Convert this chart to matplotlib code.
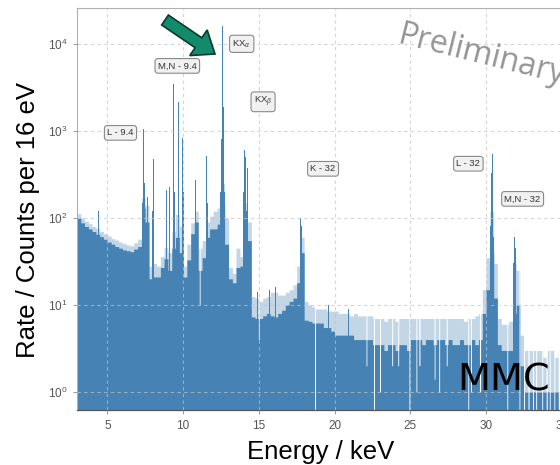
import numpy as np
import matplotlib
matplotlib.use("Agg")
import matplotlib.pyplot as plt
from matplotlib.patches import FancyArrow

plt.rcParams['font.family'] = ['Liberation Sans', 'DejaVu Sans']
plt.rcParams['mathtext.fontset'] = 'custom'
plt.rcParams['mathtext.rm'] = 'Liberation Sans'
plt.rcParams['mathtext.it'] = 'Liberation Sans:italic'

# ---- spectrum data (counts per 16 eV bin) ----
# continuum summarised in 0.25 keV blocks starting at 3.0 keV:
# typical (dense) level and upper edge of the bin-to-bin scatter
BIN_START_KEV = 3.0
BLOCK_KEV = 0.25
FINE_BIN_KEV = 0.016
continuum_typical = [
    100, 88, 80, 75, 70, 65, 61, 57, 53, 50, 47, 45, 43, 42, 41, 44,      # 3.00-6.75
    47, 130, 90, 20, 21, 21, 27, 34, 25, 45, 60, 40, 21, 33, 66, 90,      # 7.00-10.75
    25, 35, 60, 75, 75, 85, 150, 50, 20, 18, 27, 28, 80, 55, 7.3, 7,      # 11.00-14.75
    7, 7.5, 8, 7.5, 7.3, 8, 8.7, 10, 11, 12, 18, 40, 6.7, 6.5, 6.2, 6.2,  # 15.00-18.75
    6.2, 5.5, 5.5, 5, 4.5, 4.5, 4.5, 4.5, 4.5, 4, 4, 4, 4, 4, 3.5, 3.5,   # 19.00-22.75
    3.5, 3, 3.5, 3.5, 3, 3.5, 3.5, 3, 4, 4, 4, 3.5, 4, 4, 3.5, 4,         # 23.00-26.75
    4, 3.5, 4, 3.5, 3.5, 4, 3.5, 3.5, 4, 3.5, 4, 8, 15, 40, 12, 3.5,      # 27.00-30.75
    3, 3, 3, 8, 10, 2, 1, 1, 1, 1, 1, 1, 1, 1,                            # 31.00-34.25
    1, 1, 1, 1, 1, 1,                                                     # 34.50-35.75
]
continuum_scatter_top = [
    112, 100, 92, 86, 80, 76, 70, 66, 62, 58, 56, 53, 51, 49, 48, 52,
    57, 170, 140, 28, 30, 28, 36, 46, 40, 70, 110, 80, 28, 50, 88, 120,
    45, 55, 90, 105, 120, 130, 250, 100, 27, 23, 45, 36, 150, 90, 12.5, 12,
    11, 12, 12.5, 14, 14, 13, 13, 14, 15, 17, 28, 60, 11, 10, 9.5, 9,
    9, 9, 8.5, 8.5, 8.5, 8, 8, 8, 7.5, 8, 7.5, 7.5, 7.5, 7.5, 7, 7,
    7, 6.5, 7, 7, 6.5, 7, 7, 7, 7, 7, 7, 7, 7, 7, 7, 7,
    7, 7, 7, 7, 7, 7, 6.5, 7, 7, 7.5, 8, 15, 35, 120, 30, 7,
    6, 6, 6.5, 30, 25, 4.5, 3, 3, 3, 3, 3, 2.5, 3, 3,
    2.5, 3, 2.5, 2.5, 2.5, 2.5,
]

# bins with few or no counts inside the continuum (keV, counts)
dropout_energy_kev = [
    11.10, 15.00, 18.71, 22.10, 22.60, 23.00, 23.80, 24.20, 24.94, 25.40,
    25.60, 26.60, 26.90, 27.40, 28.83, 29.00, 29.60, 31.40, 32.20, 32.50,
    32.80, 33.10, 33.30, 33.70, 34.00, 34.20, 34.50, 34.80,
]
dropout_counts = [
    10, 4, 0.1, 2, 0.1, 1, 2, 2, 0.1, 1,
    2, 1.4, 1, 2, 0.1, 1, 1, 0.1, 0.1, 0.1,
    0.1, 0.1, 0.1, 0.1, 0.1, 0.1, 0.1, 0.1,
]

# narrow fluorescence / conversion lines and single high bins (keV, counts)
line_energy_kev = [
    4.40,
    7.32, 7.36, 7.40, 7.44, 7.48, 7.66, 8.00, 8.04, 8.48, 8.92, 9.10,
    9.33, 9.37, 9.41, 9.45, 9.66, 9.70, 9.74, 9.97, 10.01,
    10.80, 10.84, 11.38, 11.56, 11.60, 12.30,
    12.46, 12.50, 12.54, 12.58, 12.62, 12.66, 12.70, 12.74,
    14.01, 14.05, 14.09, 14.13, 14.20, 14.24,
    14.90, 15.70, 16.10, 17.75, 17.79, 17.83,
    19.60, 20.90, 23.00, 26.30,
    30.25, 30.29, 30.33, 30.37, 30.41, 30.45, 30.49,
    31.83, 31.87, 31.91, 31.95,
]
line_counts = [
    120,
    150, 300, 1050, 250, 140, 174, 120, 475, 102, 209, 227,
    400, 3500, 800, 200, 500, 2150, 300, 830, 200,
    275, 150, 275, 520, 150, 135,
    200, 300, 800, 3800, 16000, 1900, 400, 200,
    200, 600, 2750, 500, 120, 376,
    14, 15, 16, 100, 340, 80,
    10, 9, 10, 9,
    50, 80, 150, 330, 545, 200, 60,
    30, 60, 105, 45,
]

# line labels (text, energy keV, counts)
label_text = [r'KX$_{\alpha}$', r'KX$_{\beta}$', 'M,N - 9.4', 'L - 9.4',
              'K - 32', 'L - 32', 'M,N - 32']
label_energy = [13.87, 15.28, 9.62, 5.87, 19.24, 28.83, 32.41]
label_counts = [10070, 2170, 5615, 953, 368, 421, 166]

# ---- fine 16 eV histogram built from the block summary ----
n_fine = int(round((36.0 - BIN_START_KEV) / FINE_BIN_KEV))
fine_edges = BIN_START_KEV + FINE_BIN_KEV * np.arange(n_fine + 1)
centers = fine_edges[:-1] + FINE_BIN_KEV / 2
block = np.minimum(((centers - BIN_START_KEV) / BLOCK_KEV).astype(int),
                   len(continuum_typical) - 1)
typical = np.array(continuum_typical, float)[block]
scatter = np.array(continuum_scatter_top, float)[block]
for e, c in zip(dropout_energy_kev, dropout_counts):
    sel = np.abs(centers - e) < 0.033
    typical[sel] = c
    scatter[sel] = c

# ---- figure ----
W, H = 560, 465
fig = plt.figure(figsize=(W / 100, H / 100), dpi=100)
ax = fig.add_axes([77 / W, 55 / H, 500 / W, 402 / H])

blue = '#4682b4'
ax.fill_between(fine_edges, 0.05, np.r_[scatter, scatter[-1]], step='post',
                color=blue, alpha=0.32, lw=0)
ax.fill_between(fine_edges, 0.05, np.r_[typical, typical[-1]], step='post',
                color=blue, lw=0)
ax.bar(line_energy_kev, line_counts, width=0.045, bottom=0.05, color=blue, lw=0)

ax.set_yscale('log')
ax.set_xlim(3, 36)
ax.set_ylim(0.62, 2.6e4)
ax.set_xticks([5, 10, 15, 20, 25, 30, 35])

ax.grid(True, which='major', ls=(0, (3, 3)), color='#c4c4c4', lw=0.8, alpha=0.7)
ax.set_axisbelow(False)
ax.tick_params(labelsize=8.5, labelcolor='#555555', color='#888888', length=3,
               width=0.6, pad=4)
ax.tick_params(which='minor', length=0)
for side in ('top', 'left', 'right'):
    ax.spines[side].set_color('#b0b0b0')
    ax.spines[side].set_linewidth(0.8)
ax.spines['bottom'].set_color('#555555')
ax.spines['bottom'].set_linewidth(0.9)

ax.set_xlabel('Energy / keV', fontsize=18.5)
ax.xaxis.label.set_va('baseline')
ax.xaxis.set_label_coords(321 / W, 6 / H, transform=fig.transFigure)
ax.set_ylabel('Rate / Counts per 16 eV', fontsize=18.5)
ax.yaxis.label.set_va('baseline')
ax.yaxis.set_label_coords(35 / W, (H - 220) / H, transform=fig.transFigure)

for txt, e, c in zip(label_text, label_energy, label_counts):
    ax.text(e, c, txt, fontsize=6.8, color='#333333', ha='center', va='center',
            bbox=dict(boxstyle='round,pad=0.3', fc='#f1f1f1', ec='#8a8a8a', lw=0.8))

# pointer to the K-alpha line
arrow = FancyArrow(1.65, 4.45, 0.50, -0.34, width=0.12, head_width=0.31,
                   head_length=0.20, length_includes_head=True,
                   fc='#138a6c', ec='#0b3b2f', lw=1.2,
                   transform=fig.dpi_scale_trans)
fig.add_artist(arrow)

fig.text(397 / W, (H - 43) / H, 'Preliminary', family='Open Sans', fontsize=23,
         color='#959595', rotation=-14, rotation_mode='anchor',
         ha='left', va='baseline')
fig.text(457 / W, (H - 390) / H, 'MMC', family='DejaVu Sans', fontsize=27.5,
         color='black', ha='left', va='baseline')

fig.savefig('out.png', dpi=100)
